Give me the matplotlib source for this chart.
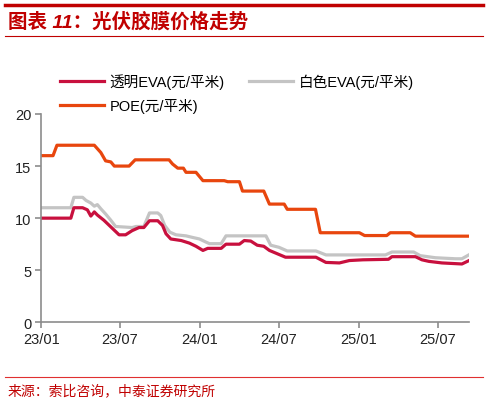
import matplotlib
matplotlib.use("Agg")
import matplotlib.pyplot as plt
import pandas as pd
from matplotlib.lines import Line2D

plt.rcParams['font.family'] = ['Liberation Sans', 'Noto Sans CJK SC', 'DejaVu Sans']

# 透明EVA (元/平米)
clear_dates = ["2023-01-02", "2023-03-10", "2023-03-17", "2023-04-06", "2023-04-17", "2023-04-25",
               "2023-05-03", "2023-05-10", "2023-05-25", "2023-06-14", "2023-06-29", "2023-07-14",
               "2023-07-29", "2023-08-14", "2023-08-25", "2023-09-07", "2023-09-26", "2023-10-07",
               "2023-10-15", "2023-10-26", "2023-11-19", "2023-12-08", "2023-12-23", "2024-01-08",
               "2024-01-19", "2024-02-19", "2024-03-01", "2024-04-01", "2024-04-12", "2024-04-27",
               "2024-05-12", "2024-05-27", "2024-06-09", "2024-07-16", "2024-09-24", "2024-10-17",
               "2024-11-17", "2024-12-10", "2025-01-10", "2025-03-10", "2025-03-18", "2025-05-11",
               "2025-05-26", "2025-06-11", "2025-07-11", "2025-08-26", "2025-09-10"]
clear_vals = [10.0, 10.0, 11.0, 11.0, 10.8, 10.2,
              10.6, 10.3, 9.8, 9.0, 8.4, 8.4,
              8.8, 9.1, 9.1, 9.75, 9.75, 9.3,
              8.5, 8.0, 7.85, 7.6, 7.3, 6.9,
              7.1, 7.1, 7.5, 7.5, 7.85, 7.8,
              7.4, 7.3, 6.9, 6.25, 6.25, 5.75,
              5.7, 5.93, 6.0, 6.05, 6.3, 6.3,
              6.0, 5.85, 5.7, 5.6, 5.9]

# 白色EVA (元/平米)
white_dates = ["2023-01-02", "2023-03-10", "2023-03-17", "2023-04-06", "2023-04-14", "2023-04-25",
               "2023-05-03", "2023-05-10", "2023-05-18", "2023-05-29", "2023-06-10", "2023-06-21",
               "2023-07-29", "2023-08-07", "2023-08-25", "2023-09-07", "2023-09-26", "2023-10-03",
               "2023-10-12", "2023-10-24", "2023-11-07", "2023-11-30", "2023-12-15", "2023-12-31",
               "2024-01-15", "2024-01-23", "2024-02-19", "2024-03-01", "2024-06-01", "2024-06-12",
               "2024-07-01", "2024-07-20", "2024-09-24", "2024-10-17", "2025-03-03", "2025-03-18",
               "2025-05-07", "2025-05-22", "2025-06-26", "2025-08-11", "2025-08-26", "2025-09-10"]
white_vals = [11.0, 11.0, 12.0, 12.0, 11.7, 11.45,
              11.15, 11.3, 10.9, 10.4, 9.8, 9.2,
              9.1, 9.2, 9.2, 10.5, 10.5, 10.25,
              9.3, 8.65, 8.4, 8.3, 8.15, 8.0,
              7.7, 7.55, 7.55, 8.3, 8.3, 7.4,
              7.2, 6.85, 6.85, 6.47, 6.47, 6.75,
              6.75, 6.4, 6.2, 6.1, 6.1, 6.45]

# POE (元/平米)
poe_dates = ["2023-01-02", "2023-01-28", "2023-02-06", "2023-05-03", "2023-05-18", "2023-05-29",
             "2023-06-10", "2023-06-18", "2023-07-22", "2023-08-05", "2023-10-22", "2023-10-30",
             "2023-11-11", "2023-11-24", "2023-11-30", "2023-12-23", "2024-01-08", "2024-02-26",
             "2024-03-05", "2024-04-01", "2024-04-08", "2024-05-27", "2024-06-09", "2024-07-13",
             "2024-07-20", "2024-09-23", "2024-10-04", "2025-01-02", "2025-01-14", "2025-03-06",
             "2025-03-14", "2025-04-29", "2025-05-11", "2025-09-10"]
poe_vals = [16.0, 16.0, 17.0, 17.0, 16.3, 15.5,
            15.4, 15.0, 15.0, 15.6, 15.6, 15.2,
            14.8, 14.8, 14.4, 14.4, 13.6, 13.6,
            13.5, 13.5, 12.6, 12.6, 11.35, 11.35,
            10.85, 10.85, 8.6, 8.6, 8.33, 8.33,
            8.6, 8.6, 8.27, 8.27]

tick_dates = ["2023-01-01", "2023-07-01", "2024-01-01", "2024-07-01", "2025-01-01", "2025-07-01"]
tick_labels = ["23/01", "23/07", "24/01", "24/07", "25/01", "25/07"]

c_clear = "#C8103E"
c_white = "#C4C4C4"
c_poe = "#E8460E"
red = "#C00000"

fig = plt.figure(figsize=(4.88, 4.02), dpi=100)
W, H = 488, 402

# header / footer rules
fig.add_artist(Line2D([5 / W, 483 / W], [1 - 6 / H, 1 - 6 / H], color=red, lw=2.5))
fig.add_artist(Line2D([5 / W, 483 / W], [1 - 37 / H, 1 - 37 / H], color=red, lw=0.8))
fig.add_artist(Line2D([5 / W, 483 / W], [1 - 378 / H, 1 - 378 / H], color="#E03030", lw=0.8))
fig.text(8 / W, 1 - 22 / H, "图表 11：光伏胶膜价格走势", color=red, fontsize=14,
         fontweight="bold", fontstyle="italic", va="center", ha="left")
fig.text(8 / W, 1 - 391 / H, "来源：索比咨询，中泰证券研究所", color=red, fontsize=10,
         va="center", ha="left", family=['Noto Sans CJK SC', 'DejaVu Sans'])

ax = fig.add_axes([41.3 / W, 1 - 323.3 / H, (469.3 - 41.3) / W, (323.3 - 115) / H])

ax.plot(pd.to_datetime(white_dates), white_vals, color=c_white, lw=2.3, label="白色EVA(元/平米)")
ax.plot(pd.to_datetime(clear_dates), clear_vals, color=c_clear, lw=2.3, label="透明EVA(元/平米)")
ax.plot(pd.to_datetime(poe_dates), poe_vals, color=c_poe, lw=2.3, label="POE(元/平米)")

ax.set_ylim(0, 20)
ax.set_yticks([0, 5, 10, 15, 20])
ax.set_xlim(pd.Timestamp("2023-01-01"), pd.Timestamp("2025-09-12"))
ax.set_xticks(pd.to_datetime(tick_dates))
ax.set_xticklabels(tick_labels)

for s in ["top", "right"]:
    ax.spines[s].set_visible(False)
for s in ["left", "bottom"]:
    ax.spines[s].set_color("#8C8C8C")
    ax.spines[s].set_linewidth(1.2)
ax.tick_params(axis="both", colors="#8C8C8C", length=4, width=1.2, labelsize=10.5,
               labelcolor="#222222")
ax.tick_params(axis="y", pad=3)
ax.tick_params(axis="x", pad=3)

h = {l.get_label(): l for l in ax.get_lines()}
handles = [h["透明EVA(元/平米)"], h["POE(元/平米)"], h["白色EVA(元/平米)"]]
fig.legend(handles, [x.get_label() for x in handles], ncol=2, frameon=False,
           loc="upper left", bbox_to_anchor=(60 / W, 1 - 74 / H), fontsize=10.5,
           handlelength=3.0, handletextpad=0.4, columnspacing=1.7, labelspacing=0.62,
           borderaxespad=0, borderpad=0)

fig.savefig("out.png", dpi=100)
